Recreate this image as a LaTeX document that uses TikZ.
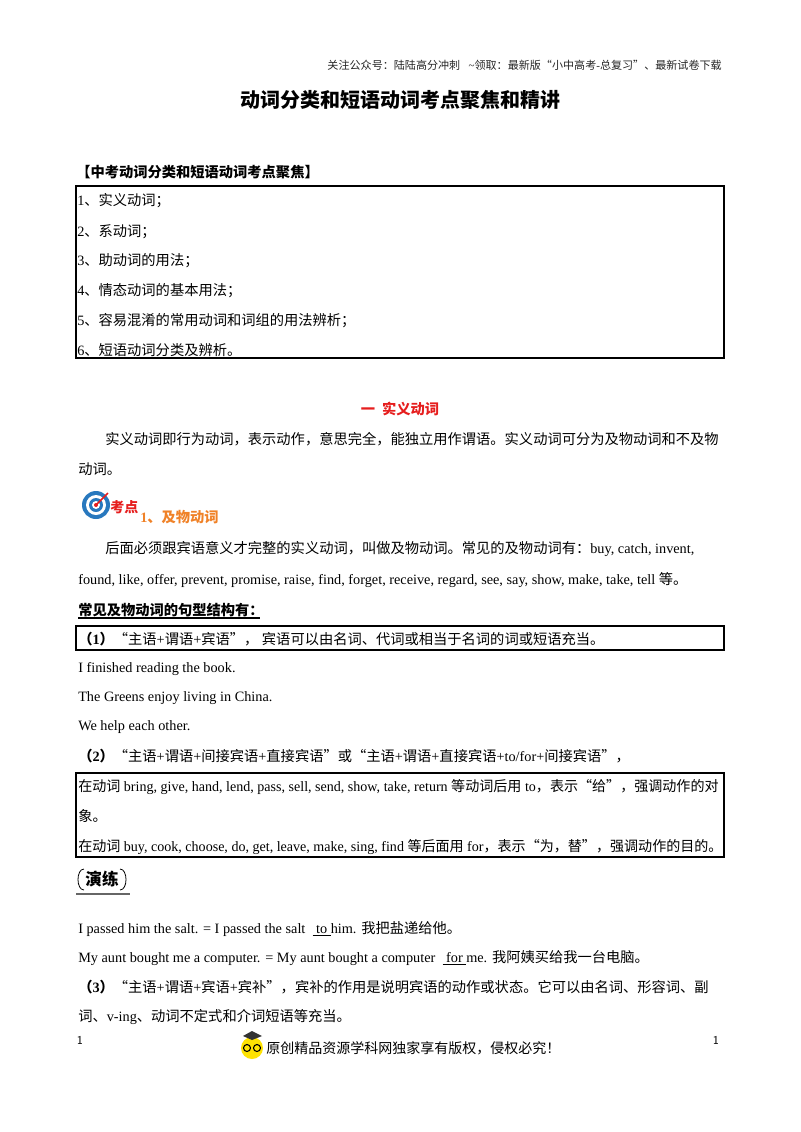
\documentclass[tikz,border=0pt]{standalone}
\usepackage{graphicx}
\usepackage{fontspec}
\setmainfont{Liberation Serif}
\newfontfamily\cjk{Noto Sans CJK SC}
\XeTeXinterchartokenstate=1
\newXeTeXintercharclass\CJKcls
\count255="3000
\loop\XeTeXcharclass\count255=\CJKcls\advance\count255 by 1\ifnum\count255<"A000\repeat
\count255="FF00
\loop\XeTeXcharclass\count255=\CJKcls\advance\count255 by 1\ifnum\count255<"FFF0\repeat
\XeTeXcharclass"201C=\CJKcls \XeTeXcharclass"201D=\CJKcls
\XeTeXinterchartoks 0 \CJKcls={\begingroup\cjk}
\XeTeXinterchartoks 4095 \CJKcls={\begingroup\cjk}
\XeTeXinterchartoks \CJKcls 0={\endgroup}
\XeTeXinterchartoks \CJKcls 4095={\endgroup}
\definecolor{redh}{RGB}{230,30,30}
\definecolor{orangeh}{RGB}{240,130,40}
\definecolor{blueic}{RGB}{40,120,190}
\begin{document}
\begin{tikzpicture}[x=0.75pt,y=-0.75pt,
  t/.style={anchor=west,inner sep=0pt,font=\fontsize{10.7}{12}\selectfont},
  tb/.style={t,font=\fontsize{10.7}{12}\selectfont\bfseries},
  bx/.style={draw,line width=0.8pt}]
\useasboundingbox (0,0) rectangle (800,1132);
\fill[white] (0,0) rectangle (800,1132);
\node[anchor=east,inner sep=0pt,font=\fontsize{8.3}{10}\selectfont,text=black!85] (hd) at (722,65) {关注公众号：陆陆高分冲刺\ \ \ \textasciitilde 领取：最新版“小中高考-总复习”、最新试卷下载};
\node[inner sep=0pt,font=\fontsize{15}{18}\selectfont\bfseries] (title) at (400,100) {动词分类和短语动词考点聚焦和精讲};
\node[tb] (h1) at (76,172) {【中考动词分类和短语动词考点聚焦】};
\draw[bx] (76,186) rectangle (724,358);
\node[t] (l1) at (77,201) {1、实义动词；};
\node[t] (l2) at (77,232) {2、系动词；};
\node[t] (l3) at (77,261) {3、助动词的用法；};
\node[t] (l4) at (77,291) {4、情态动词的基本用法；};
\node[t] (l5) at (77,321) {5、容易混淆的常用动词和词组的用法辨析；};
\node[t] (l6) at (77,350) {6、短语动词分类及辨析。};
\node[inner sep=0pt,font=\fontsize{10.7}{12}\selectfont\bfseries,text=redh] (sec) at (400,409) {一\ \ 实义动词};
\node[t] (p1) at (105,439) {实义动词即行为动词，表示动作，意思完全，能独立用作谓语。实义动词可分为及物动词和不及物};
\node[t] (p2) at (78,469) {动词。};
\fill[blueic] (96,505) circle (14);
\fill[white] (96,505) circle (10);
\fill[blueic] (96,505) circle (7);
\fill[white] (96,505) circle (4);
\fill[redh] (96,505) circle (2);
\draw[redh,line width=1.2pt] (96,505) -- (108,493);
\node[anchor=west,inner sep=0pt,font=\fontsize{10.5}{12}\selectfont\bfseries,text=redh] (kd) at (110,507) {考点};
\node[anchor=west,inner sep=0pt,font=\fontsize{10.7}{12}\selectfont\bfseries,text=orangeh] (kd1) at (140,517) {1、及物动词};
\node[t] (p3) at (105,549) {后面必须跟宾语意义才完整的实义动词，叫做及物动词。常见的及物动词有：buy, catch, invent,};
\node[t] (p4) at (78,580) {found, like, offer, prevent, promise, raise, find, forget, receive, regard, see, say, show, make, take, tell 等。};
\node[tb] (h2) at (78,610) {常见及物动词的句型结构有：};
\draw[line width=0.8pt] (78,618) -- (260,618);
\draw[bx] (76,626) rectangle (724,650);
\node[t] (s1) at (78,639) {\textbf{（1）}“主语+谓语+宾语”，\ 宾语可以由名词、代词或相当于名词的词或短语充当。};
\node[t] (e1) at (78,669) {I finished reading the book.};
\node[t] (e2) at (78,698) {The Greens enjoy living in China.};
\node[t] (e3) at (78,727) {We help each other.};
\node[t] (s2) at (78,756) {\textbf{（2）}“主语+谓语+间接宾语+直接宾语”或“主语+谓语+直接宾语+to/for+间接宾语”，};
\draw[bx] (76,773) rectangle (724,857);
\node[t] (b1) at (78,787) {\scalebox{0.985}[1]{在动词 bring, give, hand, lend, pass, sell, send, show, take, return 等动词后用 to，表示“给”，强调动作的对}};
\node[t] (b2) at (78,816) {象。};
\node[t] (b3) at (78,847) {\scalebox{0.985}[1]{在动词 buy, cook, choose, do, get, leave, make, sing, find 等后面用 for，表示“为，替”，强调动作的目的。}};
\fill[black!60] (76,893) rectangle (130,895);
\draw[line width=0.6pt] (84,869) .. controls (76,869) and (76,890) .. (84,890);
\draw[line width=0.6pt] (120,869) .. controls (128,869) and (128,890) .. (120,890);
\node[inner sep=0pt,font=\fontsize{12.5}{14}\selectfont\bfseries] (yl) at (102,879) {演练};
\node[t] (x1) at (78,929) {I passed him the salt. = I passed the salt \ \underline{\ to\ }him. 我把盐递给他。};
\node[t] (x2) at (78,958) {My aunt bought me a computer. = My aunt bought a computer \ \underline{\ for\ }me. 我阿姨买给我一台电脑。};
\node[t] (x3) at (78,987) {\textbf{（3）}“主语+谓语+宾语+宾补”，宾补的作用是说明宾语的动作或状态。它可以由名词、形容词、副};
\node[t] (x4) at (78,1017) {词、v-ing、动词不定式和介词短语等充当。};
\node[inner sep=0pt,font=\fontsize{9}{10}\selectfont\sffamily] (pg1) at (80,1040) {1};
\node[inner sep=0pt,font=\fontsize{9}{10}\selectfont\sffamily] (pg2) at (716,1040) {1};
\fill[yellow!85!orange] (252,1048) circle (11);
\draw[line width=0.8pt] (247,1048) circle (3.5) (257,1048) circle (3.5);
\fill[black!80] (243,1036) -- (252,1031) -- (262,1036) -- (252,1040) -- cycle;
\node[anchor=west,inner sep=0pt,font=\fontsize{10.5}{12}\selectfont] (ft) at (266,1048) {原创精品资源学科网独家享有版权，侵权必究！};
\end{tikzpicture}
\end{document}
